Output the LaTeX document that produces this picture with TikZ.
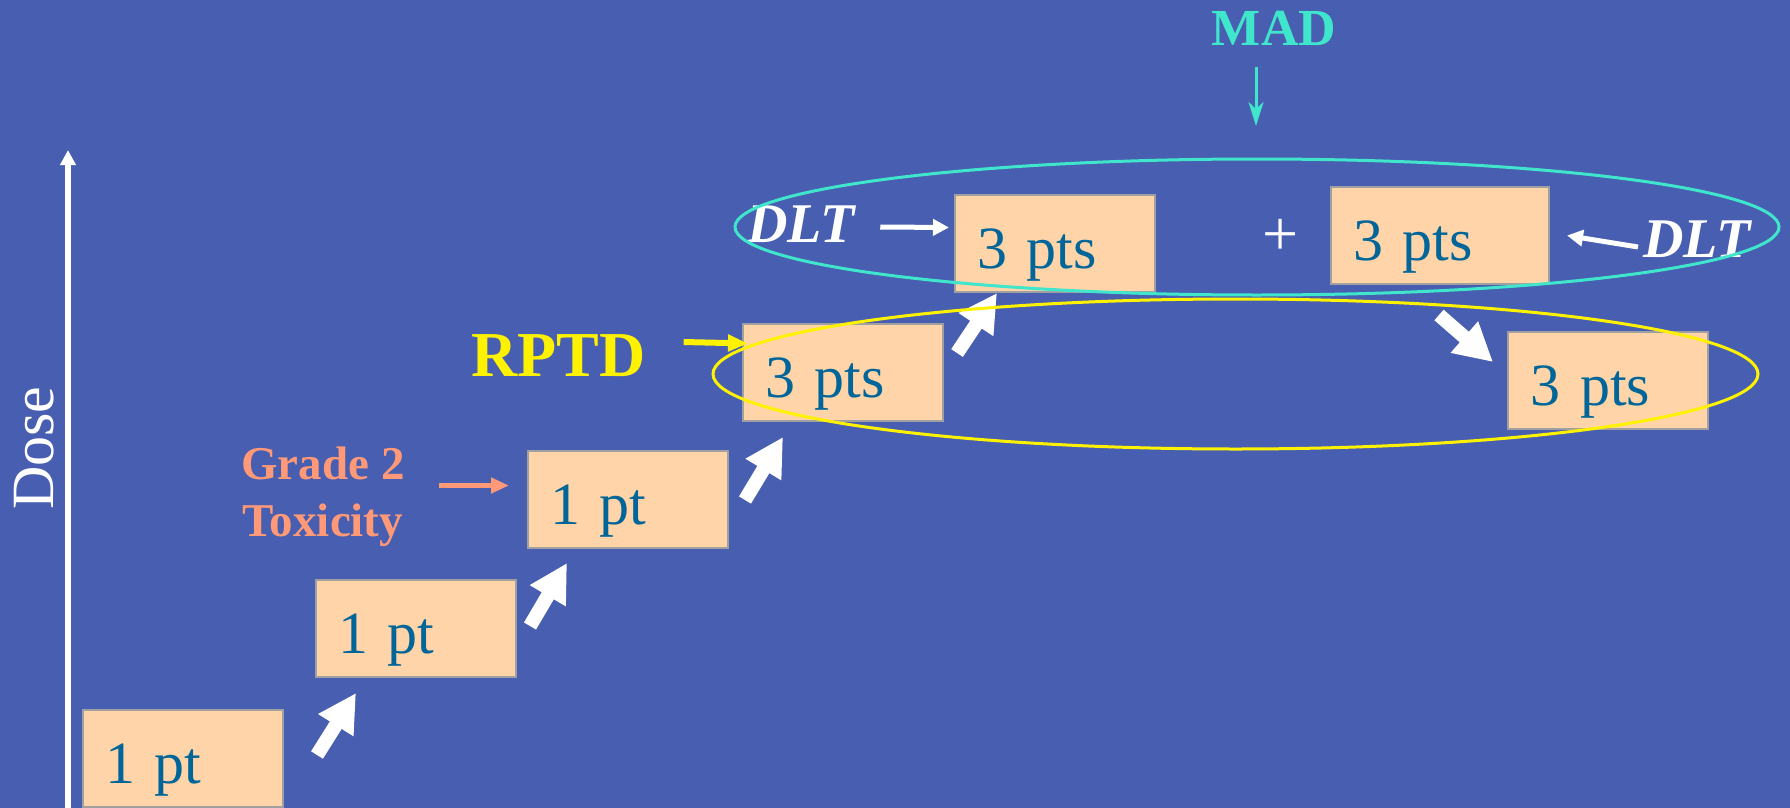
\documentclass[tikz,border=0pt]{standalone}
\usepackage{fontspec}
\setmainfont{Liberation Serif}
\usetikzlibrary{calc,arrows.meta}

\definecolor{slide}{RGB}{72,94,176}
\definecolor{peach}{RGB}{255,212,168}
\definecolor{boxedge}{RGB}{160,160,160}
\definecolor{pttext}{RGB}{0,102,153}
\definecolor{turq}{RGB}{64,230,204}
\definecolor{salmon}{RGB}{255,153,119}
\newcommand\fsz[2]{\fontsize{#1}{#2}\selectfont}

\tikzset{
  cohort/.style={draw=boxedge,line width=2pt,fill=peach,text=pttext,anchor=north west,
    minimum width=200pt,minimum height=97pt,inner xsep=22pt,inner ysep=0pt,
    text width=156pt,align=left,text height=73pt,text depth=24pt,font=\fsz{60}{70}},
  escalate/.style={white,line width=14pt,-{Triangle[length=38pt,width=39pt]}},
  pointer/.style={line width=5pt,-{Triangle[length=16pt,width=16pt]}},
  tag/.style={inner sep=0pt,anchor=base west}
}

\begin{document}
\begin{tikzpicture}[x=1pt,y=-1pt]
\clip (0,0) rectangle (1790,808);
\fill[slide] (0,0) rectangle (1790,808);

% dose axis
\coordinate (dose0) at (68,812);
\coordinate (dose1) at (68,150);
\draw[white,line width=6pt,-{Triangle[length=15pt,width=15pt]}] (dose0) -- (dose1);
\node[white,rotate=90,font=\fsz{60}{70}] (dose) at (34,448) {Dose};

% cohorts
\node[cohort] (b1) at (82,709) {1 pt};
\node[cohort] (b2) at (315,579) {1 pt};
\node[cohort] (b3) at (527,450) {1 pt};
\node[cohort] (b4) at (742,323) {3 pts};
\node[cohort] (b5) at (954,194) {3 pts};
\node[cohort,minimum width=218pt,text width=174pt] (b6) at (1330,186) {3 pts};
\node[cohort] (b7) at (1507,331) {3 pts};

% escalation steps
\draw[escalate] ($(b1.north east)+(33,46)$) -- ($(b2.south west)+(41,15)$);
\draw[escalate] ($(b2.north east)+(13,47)$) -- ($(b3.south west)+(40,14)$);
\draw[escalate] ($(b3.north east)+(16,50)$) -- ($(b4.south west)+(41,15)$);
\draw[escalate] ($(b4.north east)+(13,30)$) -- ($(b5.south west)+(43,0)$);
\draw[escalate] ($(b6.south east)+(-111,30)$) -- ($(b7.north west)+(-14,31)$);

% labels
\node[text=salmon,font=\bfseries\fsz{47}{57},align=center,inner sep=0pt] (grade) at (323,497) {Grade 2\\Toxicity};
\draw[pointer,salmon,-{Triangle[length=18pt,width=15pt]}] ($(b3.west)+(-88,-14)$) -- ($(b3.west)+(-18,-14)$);

\node[tag,text=yellow,font=\bfseries\fsz{64}{70}] (rptd) at (471,376) {RPTD};
\draw[yellow,line width=6pt,-{Triangle[length=20pt,width=16pt]}] ($(rptd.base east)+(38,-34)$) -- ($(b4.west)+(6,-29)$);

\node[tag,text=white,font=\bfseries\itshape\fsz{56}{60}] (dltl) at (747,242) {DLT};
\draw[pointer,white] ($(dltl.base east)+(25,-15)$) -- ($(b5.west)+(-5,-16)$);
\node[tag,text=white,font=\bfseries\itshape\fsz{56}{60}] (dltr) at (1643,257) {DLT};
\draw[pointer,white] ($(dltr.base west)+(-5,-10)$) -- ($(b6.east)+(17,0)$);

\node[white,font=\fsz{64}{70}] (plus) at (1281,237) {+};

\node[tag,anchor=base,text=turq,font=\bfseries\fsz{52}{60}] (mad) at (1274,46) {MAD};
\draw[turq,line width=3pt,-{Stealth[length=24pt,width=15pt,inset=7pt]}] ($(mad.base)+(-18,21)$) -- ($(mad.base)+(-18,80)$);

% groups
\draw[turq,line width=3pt] (1257,227) ellipse [x radius=522, y radius=68];
\draw[yellow,line width=3pt] (1235.5,374) ellipse [x radius=522.5, y radius=75];
\end{tikzpicture}
\end{document}
